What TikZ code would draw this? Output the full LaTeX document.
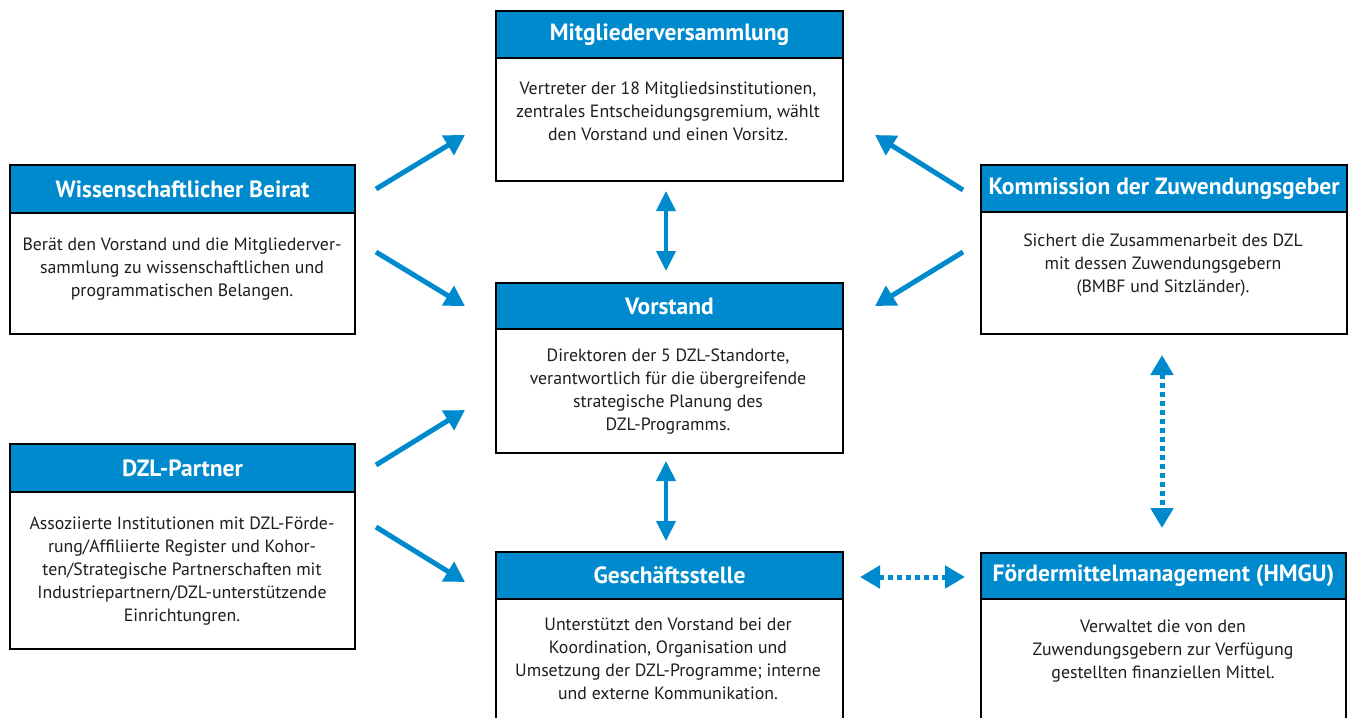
\documentclass[tikz,border=0pt]{standalone}
\usepackage{fontspec}
\setmainfont{PT Sans}
\usetikzlibrary{arrows.meta,calc}
\definecolor{dzlblue}{RGB}{0,138,206}
\definecolor{txt}{RGB}{30,30,30}
\tikzset{
  headbox/.style={draw=black, line width=2pt, fill=dzlblue, text=white, font=\fontsize{23.5}{26}\selectfont\bfseries, inner sep=0pt, anchor=north west},
  bodybox/.style={draw=black, line width=2pt, fill=white, inner sep=0pt, anchor=north west},
  bodytext/.style={text=txt, font=\fontsize{17.8}{23}\selectfont, align=center, inner sep=0pt},
  flow/.style={draw=dzlblue, line width=5pt, -{Triangle[length=20pt,width=22pt]}, shorten >=0pt},
  twoway/.style={draw=dzlblue, line width=4pt, {Triangle[length=20pt,width=19pt]}-{Triangle[length=20pt,width=19pt]}},
  dotway/.style={draw=dzlblue, line width=5pt, dash pattern=on 5pt off 4pt, {Triangle[length=20pt,width=22pt]}-{Triangle[length=20pt,width=22pt]}}
}
\begin{document}
\begin{tikzpicture}[x=1pt,y=-1pt]
\useasboundingbox (0,0) rectangle (1348,717);
% Mitgliederversammlung
\node[bodybox, minimum width=347pt, minimum height=123pt] (mvB) at (495,57) {};
\node[headbox, minimum width=347pt, minimum height=47pt] (mvH) at (495,10) {Mitgliederversammlung};
\node[bodytext] (mvT) at (668,111) {Vertreter der 18 Mitgliedsinstitutionen,\\zentrales Entscheidungsgremium, wählt\\den Vorstand und einen Vorsitz.};
% Vorstand
\node[bodybox, minimum width=347pt, minimum height=124pt] (voB) at (495,328) {};
\node[headbox, minimum width=347pt, minimum height=46pt] (voH) at (495,282) {Vorstand};
\node[bodytext] (voT) at (668,392) {Direktoren der 5 DZL-Standorte,\\verantwortlich für die übergreifende\\strategische Planung des\\DZL-Programms.};
% Geschaeftsstelle
\node[bodybox, minimum width=347pt, minimum height=125pt] (gsB) at (495,598) {};
\node[headbox, minimum width=347pt, minimum height=47pt] (gsH) at (495,551) {Geschäftsstelle};
\node[bodytext] (gsT) at (668,659) {Unterstützt den Vorstand bei der\\Koordination, Organisation und\\Umsetzung der DZL-Programme; interne\\und externe Kommunikation.};
% Wissenschaftlicher Beirat
\node[bodybox, minimum width=345pt, minimum height=121pt] (wbB) at (9,212) {};
\node[headbox, minimum width=345pt, minimum height=48pt] (wbH) at (9,164) {Wissenschaftlicher Beirat};
\node[bodytext] (wbT) at (182,269) {Berät den Vorstand und die Mitgliederver-\\sammlung zu wissenschaftlichen und\\programmatischen Belangen.};
% DZL-Partner
\node[bodybox, minimum width=345pt, minimum height=157pt] (dpB) at (9,491) {};
\node[headbox, minimum width=345pt, minimum height=48pt] (dpH) at (9,443) {DZL-Partner};
\node[bodytext] (dpT) at (182,571) {Assoziierte Institutionen mit DZL-Förde-\\rung/Affiliierte Register und Kohor-\\ten/Strategische Partnerschaften mit\\Industriepartnern/DZL-unterstützende\\Einrichtungren.};
% Kommission der Zuwendungsgeber
\node[bodybox, minimum width=366pt, minimum height=122pt] (kzB) at (980,211) {};
\node[headbox, minimum width=366pt, minimum height=47pt] (kzH) at (980,164) {Kommission der Zuwendungsgeber};
\node[bodytext] (kzT) at (1163,265) {Sichert die Zusammenarbeit des DZL\\mit dessen Zuwendungsgebern\\(BMBF und Sitzländer).};
% Foerdermittelmanagement
\node[bodybox, minimum width=365pt, minimum height=125pt] (fmB) at (980,598) {};
\node[headbox, minimum width=365pt, minimum height=46pt] (fmH) at (980,552) {Fördermittelmanagement (HMGU)};
\node[bodytext] (fmT) at (1163,651) {Verwaltet die von den\\Zuwendungsgebern zur Verfügung\\gestellten finanziellen Mittel.};
% arrow end points
\coordinate (a1s) at (376,189); \coordinate (a1e) at (465,135);
\coordinate (a2s) at (376,252); \coordinate (a2e) at (465,306);
\coordinate (a3s) at (376,465); \coordinate (a3e) at (465,410);
\coordinate (a4s) at (376,527); \coordinate (a4e) at (465,582);
\coordinate (a5s) at (963,190); \coordinate (a5e) at (875,135);
\coordinate (a6s) at (963,252); \coordinate (a6e) at (875,306);
\coordinate (b1s) at (666,191); \coordinate (b1e) at (666,271);
\coordinate (b2s) at (666,461); \coordinate (b2e) at (666,541);
\coordinate (c1s) at (860,577); \coordinate (c1e) at (965,577);
\coordinate (c2s) at (1162,355); \coordinate (c2e) at (1162,528);
\draw[flow] (a1s) -- (a1e);
\draw[flow] (a2s) -- (a2e);
\draw[flow] (a3s) -- (a3e);
\draw[flow] (a4s) -- (a4e);
\draw[flow] (a5s) -- (a5e);
\draw[flow] (a6s) -- (a6e);
\draw[twoway] (b1s) -- (b1e);
\draw[twoway] (b2s) -- (b2e);
\draw[dotway] (c1s) -- (c1e);
\draw[dotway] (c2s) -- (c2e);
\end{tikzpicture}
\end{document}
